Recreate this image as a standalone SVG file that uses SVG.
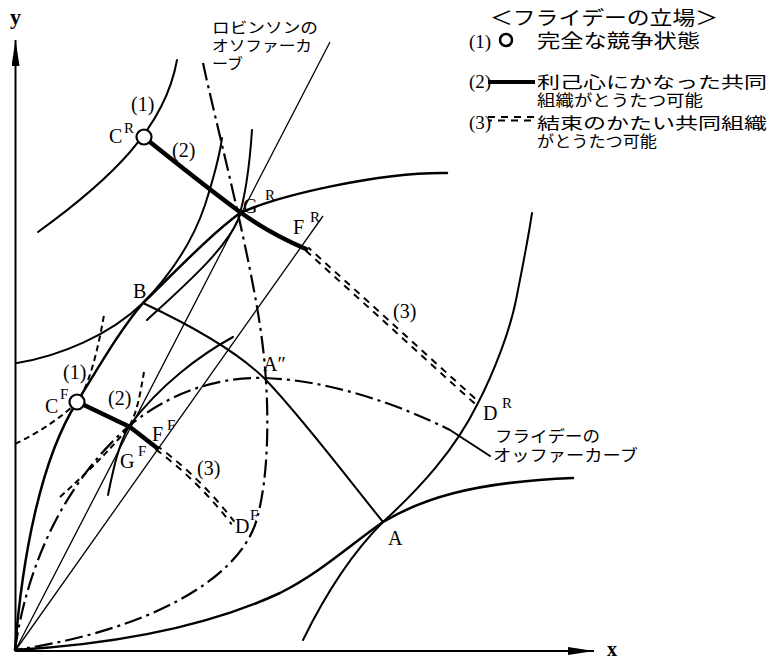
<svg xmlns="http://www.w3.org/2000/svg" width="779" height="661" viewBox="0 0 779 661">
<defs>
<marker id="arr" markerUnits="userSpaceOnUse" viewBox="0 0 26 8" refX="26" refY="4" markerWidth="26" markerHeight="8" orient="auto"><path d="M0,0 L26,4 L0,8 Z" fill="#000"/></marker>
</defs>
<style>
.c{fill:none;stroke:#000;stroke-width:2;stroke-linecap:round}
.p{fill:none;stroke:#000;stroke-width:2.5;stroke-linecap:round}
.ray{fill:none;stroke:#000;stroke-width:1.3}
.dd{fill:none;stroke:#000;stroke-width:2.2;stroke-dasharray:18 5 3 5}
.ds{fill:none;stroke:#000;stroke-width:2;stroke-dasharray:6 4}
.thick{fill:none;stroke:#000;stroke-width:4.5;stroke-linecap:round;stroke-linejoin:round}
.dbl{fill:none;stroke:#000;stroke-width:2;stroke-dasharray:7 6}
.dbl2{fill:none;stroke:#000;stroke-width:2;stroke-dasharray:7 6;stroke-dashoffset:3}
.pt{fill:#fff;stroke:#000;stroke-width:2.2}
.lat{font-family:"Liberation Serif","DejaVu Serif",serif;fill:#000}
.lab{font-size:20px}
.sup{font-size:15px}
.jp{font-family:"Noto Sans CJK JP","Noto Sans CJK SC",sans-serif;fill:#000}
</style>
<rect width="779" height="661" fill="#fff"/>

<g id="axes">
<line x1="15.5" y1="651" x2="15.5" y2="40" stroke="#000" stroke-width="2" marker-end="url(#arr)"/>
<line x1="15" y1="651" x2="594" y2="651" stroke="#000" stroke-width="2" marker-end="url(#arr)"/>
<text class="lat" x="10" y="24" font-size="22" font-weight="bold">y</text>
<text class="lat" x="607" y="656" font-size="20" font-weight="bold">x</text>
</g>

<g id="connectors">
<path class="p" d="M15,650 C22,560 40,460 77,402 C100,365 120,330 143,303 C175,272 210,235 240,213 C280,195 380,172 447,173"/>
<path class="c" d="M17,363 C60,356 110,335 143,303 C175,270 195,235 205,205 C213,180 219,160 222,138"/>
<path class="c" d="M147,320 C185,285 225,250 238,220 C246,195 250,160 252,130"/>
<path class="c" d="M38,232 C110,180 165,128 177,60"/>
<path class="p" d="M15,650 C100,645 200,630 280,593 C320,573 350,545 383,522 C420,500 470,482 573,478"/>
<path class="c" d="M303,640 C325,595 350,555 383,522 C420,488 455,450 478,403 C495,370 510,330 516,300 C522,270 528,240 532,213"/>
<path class="c" d="M143,303 C190,325 235,350 264,378 C300,415 345,475 383,522"/>
<path class="c" d="M108,495 C114,465 120,440 130,425 C160,385 200,355 233,337"/>
<path class="ray" d="M15,651 L330,42"/>
<path class="ray" d="M15,651 L323,216"/>
<path class="dd" d="M203,63 C215,120 252,260 262,340 C270,400 270,480 255,525 C235,580 150,630 15,650"/>
<path class="dd" d="M15,650 C22,600 45,500 130,425 C180,385 230,377 264,378 C330,380 400,405 450,430"/>
<path class="c" d="M450,430 L490,456"/>
<path class="ds" d="M15,444 C40,432 62,417 77,402 C88,388 97,355 104,315"/>
<path class="ds" d="M60,497 C90,470 115,445 130,425 C137,412 140,395 144,372"/>
<path class="thick" d="M150,142 C180,166 210,190 240,212 C262,228 285,240 306,249"/>
<path class="thick" d="M84,405 L130,427 L157,448"/>
<path class="dbl" d="M305.7,250.5 L475.7,404.5"/>
<path class="dbl2" d="M308.3,247.5 L478.3,401.5"/>
<path class="dbl" transform="translate(-1.3,1.3)" d="M157,448 Q200,480 233,523"/>
<path class="dbl2" transform="translate(1.3,-1.3)" d="M157,448 Q200,480 233,523"/>
</g>

<g id="CR">
<circle class="pt" cx="144" cy="137" r="7.5"/>
<text class="lat lab" x="131" y="111">(1)</text>
<text class="lat lab" x="109" y="143">C</text>
<text class="lat sup" x="124" y="133">R</text>
<text class="lat lab" x="172" y="157">(2)</text>
</g>
<g id="GR">
<text class="lat lab" x="243" y="213">G</text>
<text class="lat sup" x="265" y="200">R</text>
</g>
<g id="FR">
<text class="lat lab" x="293" y="234">F</text>
<text class="lat sup" x="310" y="222">R</text>
<text class="lat lab" x="393" y="318">(3)</text>
</g>
<g id="DR">
<text class="lat lab" x="483" y="420">D</text>
<text class="lat sup" x="502" y="408">R</text>
</g>
<g id="B"><text class="lat lab" x="133" y="298">B</text></g>
<g id="A2"><text class="lat lab" x="263" y="371">A″</text></g>
<g id="A"><text class="lat lab" x="388" y="545">A</text></g>
<g id="CF">
<circle class="pt" cx="77" cy="402" r="7.5"/>
<text class="lat lab" x="63" y="379">(1)</text>
<text class="lat lab" x="45" y="413">C</text>
<text class="lat sup" x="60" y="399">F</text>
<text class="lat lab" x="108" y="405">(2)</text>
</g>
<g id="GF">
<text class="lat lab" x="120" y="468">G</text>
<text class="lat sup" x="138" y="456">F</text>
</g>
<g id="FF">
<text class="lat lab" x="152" y="441">F</text>
<text class="lat sup" x="167" y="430">F</text>
<text class="lat lab" x="197" y="475">(3)</text>
</g>
<g id="DF">
<text class="lat lab" x="235" y="533">D</text>
<text class="lat sup" x="250" y="520">F</text>
</g>

<g id="robinson-label">
<text class="jp" font-size="15"><tspan x="212" y="33" textLength="106" lengthAdjust="spacingAndGlyphs">ロビンソンの</tspan><tspan x="212" y="51" textLength="100" lengthAdjust="spacingAndGlyphs">オソファーカ</tspan><tspan x="212" y="69" textLength="31" lengthAdjust="spacingAndGlyphs">ーブ</tspan></text>
</g>
<g id="friday-label">
<text class="jp" font-size="16"><tspan x="495" y="442" textLength="105" lengthAdjust="spacingAndGlyphs">フライデーの</tspan><tspan x="493" y="461" textLength="145" lengthAdjust="spacingAndGlyphs">オッファーカーブ</tspan></text>
</g>

<g id="legend">
<text class="jp" x="490" y="25" font-size="19" textLength="228" lengthAdjust="spacingAndGlyphs">＜フライデーの立場＞</text>
<text class="lat" x="469" y="48" font-size="19">(1)</text>
<circle cx="506" cy="40" r="6" fill="none" stroke="#000" stroke-width="2.5"/>
<text class="jp" x="537" y="48" font-size="19" textLength="163" lengthAdjust="spacingAndGlyphs">完全な競争状態</text>
<text class="lat" x="469" y="88" font-size="19">(2)</text>
<line x1="488" y1="82" x2="535" y2="82" stroke="#000" stroke-width="4"/>
<text class="jp" font-size="16"><tspan x="537" y="88" textLength="230" lengthAdjust="spacingAndGlyphs">利己心にかなった共同</tspan><tspan x="537" y="106" textLength="166" lengthAdjust="spacingAndGlyphs">組織がとうたつ可能</tspan></text>
<text class="lat" x="469" y="129" font-size="19">(3)</text>
<line class="dbl" x1="488" y1="117" x2="535" y2="117"/>
<line class="dbl2" x1="488" y1="120.5" x2="535" y2="120.5"/>
<text class="jp" font-size="16"><tspan x="537" y="129" textLength="230" lengthAdjust="spacingAndGlyphs">結束のかたい共同組織</tspan><tspan x="537" y="147" textLength="120" lengthAdjust="spacingAndGlyphs">がとうたつ可能</tspan></text>
</g>
</svg>
